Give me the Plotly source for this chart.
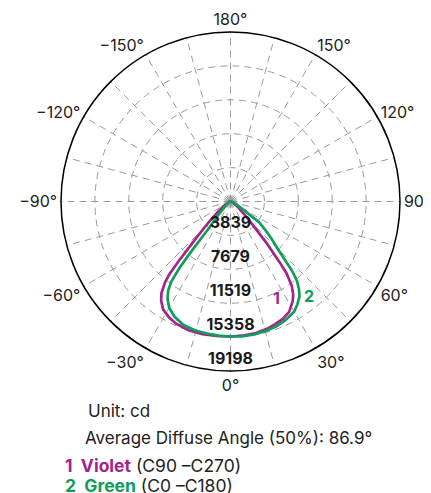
import plotly.graph_objects as go

# ---------------- data ----------------
violet_theta = [-90, -80, -70, -60, -55, -50, -47, -45, -43, -41, -40, -39, -37, -35, -32, -28, -24, -18, -12, -6, 0,
                6, 11, 16, 20, 24, 28, 32, 34, 36, 38, 39, 41, 43, 45, 48, 52, 57, 62, 70, 80, 90]
violet_cd = [0, 40, 150, 500, 1000, 1900, 3100, 4200, 5800, 9000, 10800, 11800, 13000, 13700, 14400, 14850, 15150, 15330, 15360, 15320, 15290,
             15230, 15180, 15000, 14780, 14550, 14150, 13300, 12700, 11800, 10300, 8800, 6200, 4000, 3000, 1800, 1200, 700, 400, 150, 40, 0]

green_theta = [-90, -80, -70, -60, -50, -45, -42, -40, -39, -38.5, -38, -37.5, -36.5, -35, -33, -30, -26, -21, -15, -10, -5, 0,
               5, 10, 15, 20, 25, 30, 33, 36, 38, 40, 41.5, 43, 45, 48, 51, 54, 55, 57, 60, 65, 70, 80, 90]
green_cd = [0, 40, 120, 250, 600, 1100, 2300, 3000, 4000, 5500, 7500, 9500, 11300, 12300, 13100, 13900, 14500, 14960, 15150, 15180, 15250, 15290,
            15340, 15300, 15200, 15070, 14800, 14420, 13900, 13300, 12600, 11700, 10600, 9000, 7500, 6200, 5000, 4000, 2800, 1800, 1100, 600, 300, 80, 0]

radial_ticks = [3839, 7679, 11519, 15358, 19198]
radial_max = 19198

angle_vals = list(range(0, 360, 15))
angle_label = {0: "0°", 30: "30°", 60: "60°", 90: "90°", 120: "120°", 150: "150°", 180: "180°",
               210: "−150°", 240: "−120°", 270: "−90°", 300: "−60°", 330: "−30°"}
angle_text = [angle_label.get(a, "") for a in angle_vals]

VIOLET = "#a3238f"
GREEN = "#0f9d58"
FONT = "Inter"
TXT = "#222222"

OFF = 8  # page body margin
W, H = 431, 493
ML, MT = 53.2, 24.1
PW = PH = 339.2
MR = W - ML - PW
MB = H - MT - PH


def px(x, y):
    return (x - OFF - ML) / PW, (H - MB - (y - OFF)) / PH


fig = go.Figure()
fig.add_trace(go.Scatterpolar(r=violet_cd, theta=violet_theta, mode="lines",
                              line=dict(color=VIOLET, width=2.7), hoverinfo="skip", showlegend=False))
fig.add_trace(go.Scatterpolar(r=green_cd, theta=green_theta, mode="lines",
                              line=dict(color=GREEN, width=2.7), hoverinfo="skip", showlegend=False))
fig.add_trace(go.Scatterpolar(r=radial_ticks, theta=[0] * len(radial_ticks), mode="markers+text",
                              marker=dict(size=4, color="rgba(0,0,0,0)"),
                              text=[f"<b>{v}</b>" for v in radial_ticks], textposition="top center",
                              textfont=dict(family=FONT, size=16, color="#1a1a1a"),
                              hoverinfo="skip", showlegend=False))

GRID = "#9a9a9a"
fig.update_layout(
    width=W, height=H,
    margin=dict(l=ML, r=MR, t=MT, b=MB, pad=0),
    paper_bgcolor="white",
    font=dict(family=FONT, color=TXT),
    polar=dict(
        bgcolor="white",
        domain=dict(x=[0, 1], y=[0, 1]),
        radialaxis=dict(range=[0, radial_max], tickvals=radial_ticks, showticklabels=False, ticks="",
                        showline=False, gridcolor=GRID, griddash="7px,5px", gridwidth=1),
        angularaxis=dict(rotation=270, direction="counterclockwise", tickvals=angle_vals, ticktext=angle_text,
                         ticks="", showline=True, linecolor="black", linewidth=1.5,
                         gridcolor=GRID, griddash="7px,5px", gridwidth=1,
                         tickfont=dict(family=FONT, size=16, color=TXT)),
    ),
)

anns = [
    ((276.7, 298.3), "<b>1</b>", VIOLET, "center", 16),
    ((309.3, 296.7), "<b>2</b>", GREEN, "center", 16),
    ((86.5, 411.7), "Unit: cd", TXT, "left", 17),
    ((83.0, 438.3), "Average Diffuse Angle (50%): 86.9°", TXT, "left", 17),
    ((63.5, 466.0), f"<b><span style='color:{VIOLET}'>1\u00a0\u00a0Violet</span></b> (C90 –C270)", TXT, "left", 17.5),
    ((63.5, 486.0), f"<b><span style='color:{GREEN}'>2\u00a0\u00a0Green</span></b> (C0 –C180)", TXT, "left", 17.5),
]
for (x, y), t, c, xa, s in anns:
    ax, ay = px(x, y)
    fig.add_annotation(x=ax, y=ay, xref="paper", yref="paper", text=t, showarrow=False,
                       xanchor=xa, yanchor="middle", font=dict(family=FONT, size=s, color=c))

fig.write_html("out.html")
